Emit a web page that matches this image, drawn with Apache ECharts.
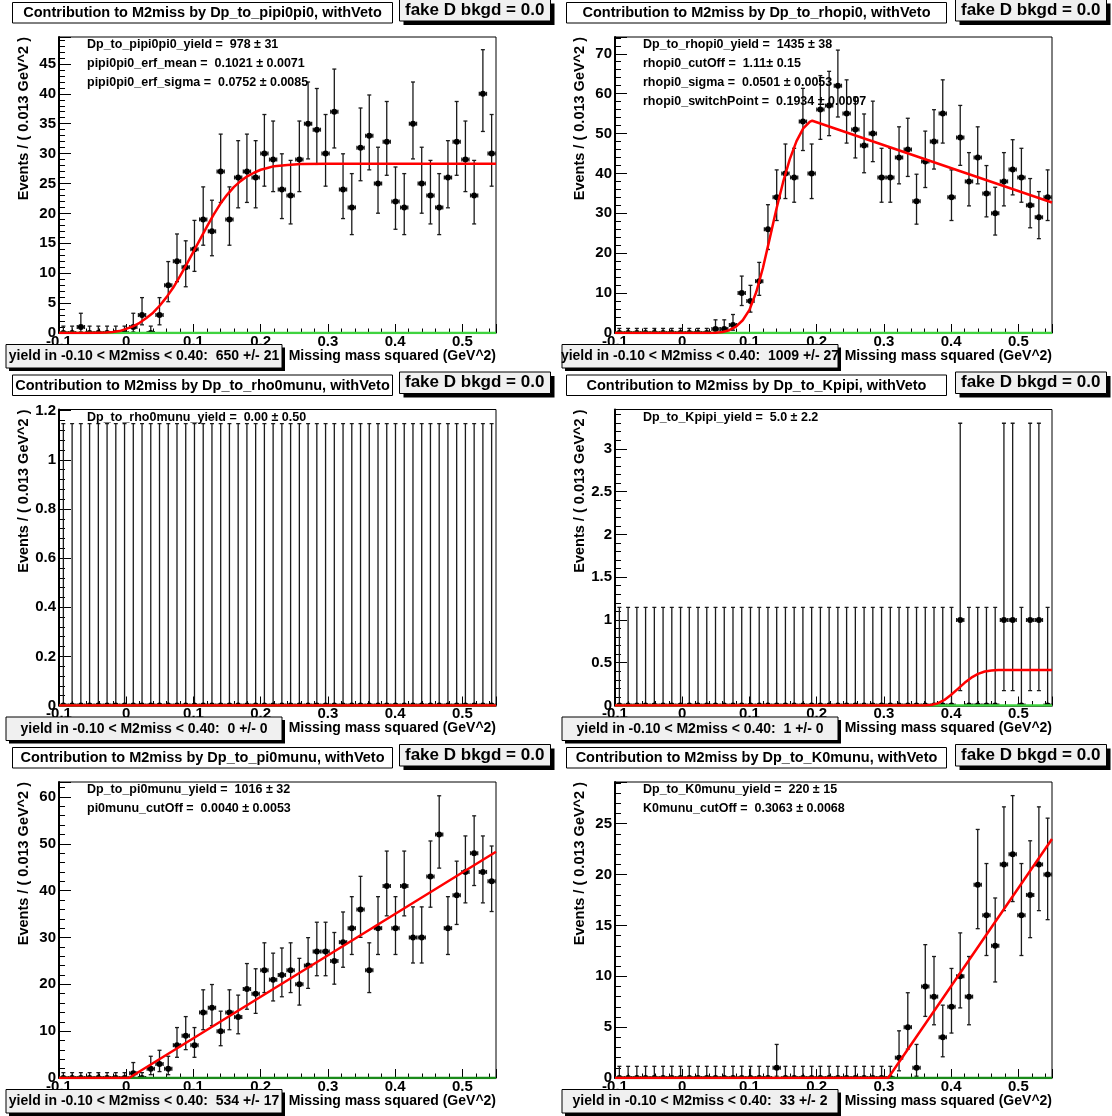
<!DOCTYPE html>
<html>
<head>
<meta charset="utf-8">
<title>M2miss contributions</title>
<script src="https://cdn.jsdelivr.net/npm/echarts/dist/echarts.min.js"></script>
<style>
  html, body { margin: 0; padding: 0; background: #fff; }
  #chart { width: 1112px; height: 1116px; }
</style>
</head>
<body>
<div id="chart"></div>
<script>
// ---- binning of the missing-mass-squared histograms ----
const X_MIN = -0.1, X_MAX = 0.55, BIN_W = 0.013, N_BINS = 50;
const binCenters = Array.from({ length: N_BINS }, (_, i) => +(X_MIN + BIN_W * (i + 0.5)).toFixed(4));

// ---- event counts per bin ----
const pipi0pi0Counts = [0,0,1,0,0,0,0,0,1,3, 0,3,8,12,11,14,19,17,27,19, 26,27,26,30,29,24,23,29,35,34, 30,37,24,21,31,33,25,32,22,21, 35,25,23,21,26,32,29,23,40,30];
const rhopi0Counts   = [0,0,0,0,0,0,0,0,0,0, 0,1,1,2,10,8,13,26,34,40, 39,53,40,56,57,62,55,51,47,50, 39,39,44,46,33,43,48,55,34,49, 38,44,35,30,38,41,39,32,29,34];
const rho0munuCounts = [0,0,0,0,0,0,0,0,0,0, 0,0,0,0,0,0,0,0,0,0, 0,0,0,0,0,0,0,0,0,0, 0,0,0,0,0,0,0,0,0,0, 0,0,0,0,0,0,0,0,0,0];
const kpipiCounts    = [0,0,0,0,0,0,0,0,0,0, 0,0,0,0,0,0,0,0,0,0, 0,0,0,0,0,0,0,0,0,0, 0,0,0,0,0,0,0,0,0,1, 0,0,0,0,1,1,0,1,1,0];
const pi0munuCounts  = [0,0,0,0,0,0,0,0,1,0, 2,3,2,7,9,7,14,15,10,14, 13,19,18,23,21,22,23,20,24,27, 27,25,29,32,36,23,32,41,32,41, 30,30,43,52,32,39,44,48,44,42];
const k0munuCounts   = [0,0,0,0,0,0,0,0,0,0, 0,0,0,0,0,0,0,0,1,0, 0,0,0,0,0,0,0,0,0,0, 0,0,2,5,1,9,8,4,7,10, 8,19,16,13,21,22,16,18,21,20];

// ---- fitted model curves (x, y) ----
const pipi0pi0FitX = [-0.1, -0.06, -0.04, -0.03, -0.02, -0.01, 0, 0.01, 0.02, 0.03, 0.04, 0.05, 0.06, 0.07, 0.08, 0.09, 0.1, 0.11, 0.12, 0.13, 0.14, 0.15, 0.16, 0.17, 0.18, 0.19, 0.2, 0.21, 0.22, 0.24, 0.26, 0.3, 0.55];
const pipi0pi0FitY = [0, 0.02, 0.06, 0.1, 0.18, 0.32, 0.7, 1.1, 1.7, 2.5, 3.4, 4.6, 6.0, 7.6, 9.5, 11.5, 13.6, 15.7, 17.8, 19.8, 21.6, 23.1, 24.4, 25.4, 26.2, 26.8, 27.3, 27.6, 27.9, 28.1, 28.25, 28.3, 28.3];
const rhopi0FitX   = [-0.1, 0.03, 0.04, 0.05, 0.06, 0.07, 0.08, 0.09, 0.1, 0.11, 0.12, 0.13, 0.14, 0.15, 0.16, 0.17, 0.18, 0.19, 0.1934, 0.55];
const rhopi0FitY   = [0, 0, 0.02, 0.08, 0.25, 0.7, 1.6, 3.2, 5.8, 10.2, 16.3, 23.6, 31.0, 37.8, 43.6, 48.1, 51.3, 53.0, 53.2, 32.7];
const rho0munuFitX = [-0.1, 0.55];
const rho0munuFitY = [0, 0];
const kpipiFitX    = [-0.1, 0.36, 0.37, 0.38, 0.39, 0.40, 0.41, 0.42, 0.43, 0.44, 0.45, 0.46, 0.47, 0.55];
const kpipiFitY    = [0, 0, 0.005, 0.025, 0.065, 0.125, 0.195, 0.265, 0.325, 0.37, 0.398, 0.41, 0.415, 0.415];
const pi0munuFitX  = [-0.1, 0.004, 0.55];
const pi0munuFitY  = [0, 0, 48.3];
const k0munuFitX   = [-0.1, 0.3063, 0.55];
const k0munuFitY   = [0, 0, 23.5];
const bkgdX = [-0.1, 0.55];
const bkgdY = [0, 0];

// ---- texts ----
const titles = [
  'Contribution to M2miss by Dp_to_pipi0pi0, withVeto',
  'Contribution to M2miss by Dp_to_rhopi0, withVeto',
  'Contribution to M2miss by Dp_to_rho0munu, withVeto',
  'Contribution to M2miss by Dp_to_Kpipi, withVeto',
  'Contribution to M2miss by Dp_to_pi0munu, withVeto',
  'Contribution to M2miss by Dp_to_K0munu, withVeto'
];
const fitParams = [
  ['Dp_to_pipi0pi0_yield =  978 \u00b1 31', 'pipi0pi0_erf_mean =  0.1021 \u00b1 0.0071', 'pipi0pi0_erf_sigma =  0.0752 \u00b1 0.0085'],
  ['Dp_to_rhopi0_yield =  1435 \u00b1 38', 'rhopi0_cutOff =  1.11\u00b1 0.15', 'rhopi0_sigma =  0.0501 \u00b1 0.0053', 'rhopi0_switchPoint =  0.1934 \u00b1 0.0097'],
  ['Dp_to_rho0munu_yield =  0.00 \u00b1 0.50'],
  ['Dp_to_Kpipi_yield =  5.0 \u00b1 2.2'],
  ['Dp_to_pi0munu_yield =  1016 \u00b1 32', 'pi0munu_cutOff =  0.0040 \u00b1 0.0053'],
  ['Dp_to_K0munu_yield =  220 \u00b1 15', 'K0munu_cutOff =  0.3063 \u00b1 0.0068']
];
const yieldTexts = [
  'yield in -0.10 < M2miss < 0.40:  650 +/- 21',
  'yield in -0.10 < M2miss < 0.40:  1009 +/- 27',
  'yield in -0.10 < M2miss < 0.40:  0 +/- 0',
  'yield in -0.10 < M2miss < 0.40:  1 +/- 0',
  'yield in -0.10 < M2miss < 0.40:  534 +/- 17',
  'yield in -0.10 < M2miss < 0.40:  33 +/- 2'
];
const bkgdLabel = 'fake D bkgd = 0.0';
const xTitle = 'Missing mass squared (GeV^2)';
const yTitle = 'Events / ( 0.013 GeV^2 )';

// y ranges and major tick steps
const yMaxes = [49.5, 74.2, 1.205, 3.46, 63.2, 29.1];
const ySteps = [5, 10, 0.2, 0.5, 10, 5];

const countsList = [pipi0pi0Counts, rhopi0Counts, rho0munuCounts, kpipiCounts, pi0munuCounts, k0munuCounts];
const fitCurves = [
  [pipi0pi0FitX, pipi0pi0FitY],
  [rhopi0FitX, rhopi0FitY],
  [rho0munuFitX, rho0munuFitY],
  [kpipiFitX, kpipiFitY],
  [pi0munuFitX, pi0munuFitY],
  [k0munuFitX, k0munuFitY]
];
const bkgdColors = ['#3fd33f', '#3fd33f', '#2aa02a', '#3fd33f', '#1a8a1a', '#1a8a1a'];

// ---- Poisson (Garwood) central 68% interval for a count ----
function poissonCdf(n, mu) {
  let term = Math.exp(-mu), sum = term;
  for (let k = 1; k <= n; k++) { term *= mu / k; sum += term; }
  return sum;
}
const TAIL = 0.158655;
function poissonErrors(n) {
  if (n === 0) return [0, -Math.log(1 - 0.682689)];
  let a = n, b = n + 20 + 10 * Math.sqrt(n);
  for (let i = 0; i < 80; i++) { const m = (a + b) / 2; if (poissonCdf(n, m) > TAIL) a = m; else b = m; }
  const up = (a + b) / 2;
  a = 0; b = n;
  for (let i = 0; i < 80; i++) { const m = (a + b) / 2; if (1 - poissonCdf(n - 1, m) < TAIL) a = m; else b = m; }
  const low = (a + b) / 2;
  return [n - low, up - n];
}

// ---- page layout (pixels) ----
const FONT = '"Liberation Sans", Arial, Helvetica, sans-serif';
const COL_X = [0, 556];
const ROW_Y = [0, 372.5, 745];
const FRAME_L = 59, FRAME_T = 37, FRAME_W = 437, FRAME_H = 296;

const grids = [], xAxes = [], yAxes = [], series = [], graphics = [];

function boxWithShadow(x, y, w, h, fill, shadow) {
  if (shadow) {
    graphics.push({ type: 'rect', z: 100, shape: { x: x + shadow, y: y + shadow, width: w, height: h }, style: { fill: '#000' } });
  }
  graphics.push({ type: 'rect', z: 101, shape: { x: x, y: y, width: w, height: h }, style: { fill: fill, stroke: '#000', lineWidth: 1 } });
}
function text(x, y, str, size, align, vAlign, extra) {
  graphics.push(Object.assign({
    type: 'text', z: 102, x: x, y: y,
    style: { text: str, font: 'bold ' + size + 'px ' + FONT, fill: '#000', align: align, verticalAlign: vAlign }
  }, extra || {}));
}

function errorBarItem(params, api) {
  const x = api.value(0), y = api.value(1), lo = api.value(2), hi = api.value(3);
  const c = api.coord([x, y]);
  const cx = c[0];
  const cy = c[1];
  const top = api.coord([x, y + hi])[1];
  const bot = api.coord([x, y - lo])[1];
  const xl = api.coord([x - BIN_W / 2, y])[0] + 0.8;
  const xr = api.coord([x + BIN_W / 2, y])[0] - 0.8;
  const st = { stroke: '#1a1a1a', lineWidth: 1.3 };
  const cap = 2;
  const kids = [
    { type: 'line', shape: { x1: cx, y1: top, x2: cx, y2: bot }, style: st },
    { type: 'line', shape: { x1: cx - cap, y1: top, x2: cx + cap, y2: top }, style: st },
    { type: 'line', shape: { x1: xl, y1: cy, x2: xr, y2: cy }, style: st },
    { type: 'line', shape: { x1: xl, y1: cy - cap, x2: xl, y2: cy + cap }, style: st },
    { type: 'line', shape: { x1: xr, y1: cy - cap, x2: xr, y2: cy + cap }, style: st },
    { type: 'circle', shape: { cx: cx, cy: cy, r: 3 }, style: { fill: '#000' } }
  ];
  if (lo > 0) kids.push({ type: 'line', shape: { x1: cx - cap, y1: bot, x2: cx + cap, y2: bot }, style: st });
  return { type: 'group', children: kids };
}

for (let p = 0; p < 6; p++) {
  const col = p % 2, row = Math.floor(p / 2);
  const ox = COL_X[col], oy = ROW_Y[row];

  grids.push({
    left: ox + FRAME_L, top: oy + FRAME_T, width: FRAME_W, height: FRAME_H,
    show: true, borderColor: '#000', borderWidth: 1, backgroundColor: 'transparent',
    containLabel: false, outerBoundsMode: 'none'
  });

  xAxes.push({
    type: 'value', gridIndex: p, min: X_MIN, max: X_MAX, interval: 0.1,
    axisLine: { show: true, onZero: false, lineStyle: { color: '#000', width: 1.5 } },
    axisTick: { show: true, inside: true, length: 9, lineStyle: { color: '#000', width: 1 } },
    minorTick: { show: true, splitNumber: 5, length: 4.5, lineStyle: { color: '#000', width: 1 } },
    axisLabel: {
      show: true, margin: 1, color: '#000', fontFamily: FONT, fontWeight: 'bold', fontSize: 15,
      showMaxLabel: false, formatter: v => String(+v.toFixed(2))
    },
    splitLine: { show: false }, minorSplitLine: { show: false }
  });

  yAxes.push({
    type: 'value', gridIndex: p, min: 0, max: yMaxes[p], interval: ySteps[p],
    axisLine: { show: true, onZero: false, lineStyle: { color: '#000', width: 2 } },
    axisTick: { show: true, inside: true, length: 12, lineStyle: { color: '#000', width: 1 } },
    minorTick: { show: true, splitNumber: 5, length: 6, lineStyle: { color: '#000', width: 1 } },
    axisLabel: {
      show: true, margin: 3, color: '#000', fontFamily: FONT, fontWeight: 'bold', fontSize: 15,
      showMaxLabel: false, formatter: v => String(+v.toFixed(2))
    },
    splitLine: { show: false }, minorSplitLine: { show: false }
  });

  // data points with Poisson error bars
  const pts = countsList[p].map((n, i) => {
    const e = poissonErrors(n);
    return [binCenters[i], n, e[0], e[1]];
  });
  series.push({
    type: 'custom', xAxisIndex: p, yAxisIndex: p, z: 2, clip: true,
    renderItem: errorBarItem, data: pts, silent: true
  });

  // background component (zero)
  series.push({
    type: 'line', xAxisIndex: p, yAxisIndex: p, z: 3, symbol: 'none', silent: true,
    data: bkgdX.map((x, i) => [x, bkgdY[i]]),
    lineStyle: { color: bkgdColors[p], width: 2.5 }
  });

  // total fit model
  const fx = fitCurves[p][0], fy = fitCurves[p][1];
  series.push({
    type: 'line', xAxisIndex: p, yAxisIndex: p, z: 4, symbol: 'none', silent: true,
    data: fx.map((x, i) => [x, fy[i]]),
    lineStyle: { color: '#f00', width: 2.5, join: 'round' }
  });

  // title pave
  const tx = col === 0 ? 12.5 : 10.5;
  boxWithShadow(ox + tx, oy + 2.5, 380, 20.5, '#fff', 0);
  text(ox + tx + 190, oy + 13, titles[p], 14.5, 'center', 'middle');

  // background label pave
  boxWithShadow(ox + 399.5, oy - 0.5, 151, 21.5, '#f0f0f0', 4);
  text(ox + 405, oy + 10, bkgdLabel, 17, 'left', 'middle');

  // fit parameters
  fitParams[p].forEach((s, i) => {
    text(ox + 87, oy + 45 + i * 18.8, s, 12.5, 'left', 'middle');
  });

  // axis titles
  text(ox + 23.5, oy + FRAME_T, yTitle, 14.5, 'right', 'middle', { rotation: Math.PI / 2 });
  text(ox + FRAME_L + FRAME_W, oy + 356, xTitle, 14, 'right', 'middle');

  // yield pave
  boxWithShadow(ox + 6, oy + 344.5, 276, 23.5, '#f0f0f0', 3);
  text(ox + 6 + 138, oy + 356.5, yieldTexts[p], 14, 'center', 'middle');
}

const chart = echarts.init(document.getElementById('chart'), null, { renderer: 'canvas' });
chart.setOption({
  animation: false,
  backgroundColor: '#fff',
  grid: grids,
  xAxis: xAxes,
  yAxis: yAxes,
  series: series,
  graphic: { elements: graphics }
});
</script>
</body>
</html>
